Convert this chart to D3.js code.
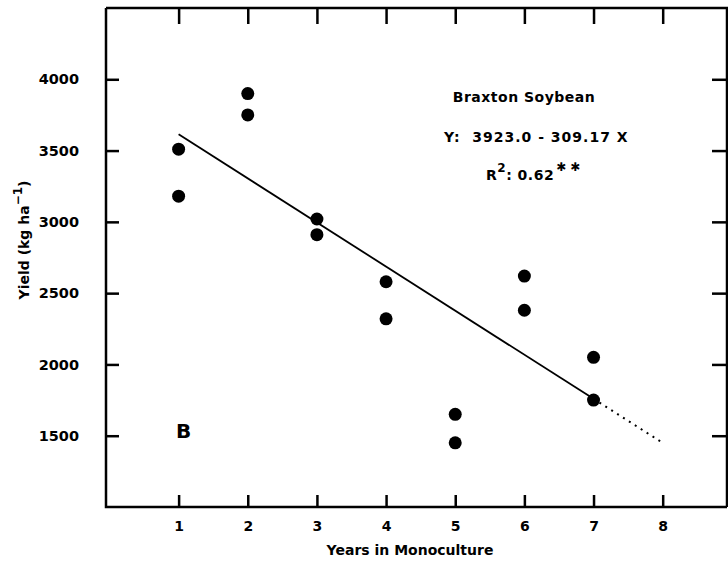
<!DOCTYPE html>
<html>
<head>
<meta charset="utf-8">
<script src="https://cdn.jsdelivr.net/npm/d3@7"></script>
<style>
  body { margin: 0; background: #fff; }
  text { font-family: "DejaVu Sans", sans-serif; font-weight: bold; fill: #000; }
</style>
</head>
<body>
<div class="chart"></div>
<script>
const years = [1, 1, 2, 2, 3, 3, 4, 4, 5, 5, 6, 6, 7, 7]
const yields = [3510, 3180, 3900, 3750, 3020, 2910, 2580, 2320, 1650, 1450, 2620, 2380, 2050, 1750]
const xTicks = [1, 2, 3, 4, 5, 6, 7, 8]
const yTicks = [1500, 2000, 2500, 3000, 3500, 4000]
const intercept = 3923.0, slope = -309.17

const width = 728, height = 563
const margin = ({top: 8, right: 1, bottom: 56, left: 106})
const font = "DejaVu Sans, sans-serif"

const svg = d3.select(".chart").append("svg")
    .attr("width", width)
    .attr("height", height)

const xScale = d3.scaleLinear()
    .domain([-0.05, 8.93])
    .range([margin.left, width - margin.right])

const yScale = d3.scaleLinear()
    .domain([1000, 4500])
    .range([height - margin.bottom, margin.top])

const fit = x => intercept + slope * x

// frame
const x0 = xScale.range()[0], x1 = xScale.range()[1]
const y0 = yScale.range()[0], y1 = yScale.range()[1]
svg.append("path")
    .attr("d", `M${x0},${y1}V${y0}H${x1}M${x0},${y1}H${x1}V${y0}`)
    .attr("fill", "none")
    .attr("stroke", "#000")
    .attr("stroke-width", 2.5)

// bottom axis (ticks point inward)
const xAxis = d3.axisBottom(xScale).tickValues(xTicks).tickSize(-12).tickPadding(14)
const gx = svg.append("g")
    .attr("transform", `translate(0,${y0})`)
    .call(xAxis)
gx.select(".domain").remove()
gx.selectAll("line").attr("stroke-width", 2.5)
gx.selectAll("text").style("font-size", "14px").style("font-family", font)

// top axis ticks
const gxt = svg.append("g")
    .attr("transform", `translate(0,${y1})`)
    .call(d3.axisTop(xScale).tickValues(xTicks).tickSize(-16).tickFormat(""))
gxt.select(".domain").remove()
gxt.selectAll("line").attr("stroke-width", 2.5)

// left axis
const yAxis = d3.axisLeft(yScale).tickValues(yTicks).tickSize(-13).tickPadding(27).tickFormat(d3.format("d"))
const gy = svg.append("g")
    .attr("transform", `translate(${x0},0)`)
    .call(yAxis)
gy.select(".domain").remove()
gy.selectAll("line").attr("stroke-width", 2.5)
gy.selectAll("text").style("font-size", "14.5px").style("font-family", font)

// right axis ticks
const gyr = svg.append("g")
    .attr("transform", `translate(${x1},0)`)
    .call(d3.axisRight(yScale).tickValues(yTicks).tickSize(-15).tickFormat(""))
gyr.select(".domain").remove()
gyr.selectAll("line").attr("stroke-width", 2.5)

// regression line, solid for 1-7 then dotted to 8
const line = d3.line().x(d => xScale(d)).y(d => yScale(fit(d)))
svg.append("path")
    .attr("d", line([1, 7]))
    .attr("stroke", "#000")
    .attr("stroke-width", 1.8)
    .attr("fill", "none")
svg.append("path")
    .attr("d", line([7, 8]))
    .attr("stroke", "#000")
    .attr("stroke-width", 2)
    .attr("stroke-dasharray", "2,5")
    .attr("fill", "none")

// points
svg.selectAll("circle")
    .data(years.map((d, i) => ({x: d, y: yields[i]})))
    .enter()
    .append("circle")
        .attr("cx", d => xScale(d.x))
        .attr("cy", d => yScale(d.y))
        .attr("r", 6.5)
        .attr("fill", "#000")

// annotations
svg.append("text")
    .attr("x", 524).attr("y", 102)
    .attr("text-anchor", "middle")
    .style("font-size", "14px")
    .style("letter-spacing", "0.5px")
    .text("Braxton Soybean")

svg.append("text")
    .attr("x", 444).attr("y", 142)
    .style("font-size", "14px")
    .style("letter-spacing", "1px")
    .attr("xml:space", "preserve")
    .text("Y:  3923.0 - 309.17 X")

const r2 = svg.append("text")
    .attr("x", 486).attr("y", 180)
    .style("font-size", "14px")
    .style("letter-spacing", "0.5px")
r2.append("tspan").text("R")
r2.append("tspan").attr("dy", -8).style("font-size", "12px").text("2")
r2.append("tspan").attr("dy", 8).text(": 0.62")
r2.append("tspan").attr("dy", -9).attr("dx", 2).style("font-size", "12px").style("letter-spacing", "4px").text("✱✱")

svg.append("text")
    .attr("x", 176).attr("y", 438)
    .style("font-size", "20px")
    .text("B")

// axis titles
svg.append("text")
    .attr("x", 410).attr("y", 555)
    .attr("text-anchor", "middle")
    .style("font-size", "14px")
    .text("Years in Monoculture")

const yl = svg.append("text")
    .attr("transform", "translate(29,240) rotate(-90)")
    .attr("text-anchor", "middle")
    .style("font-size", "14px")
yl.append("tspan").text("Yield (kg ha")
yl.append("tspan").attr("dy", -7).style("font-size", "12px").text("−1")
yl.append("tspan").attr("dy", 7).text(")")
</script>
</body>
</html>
